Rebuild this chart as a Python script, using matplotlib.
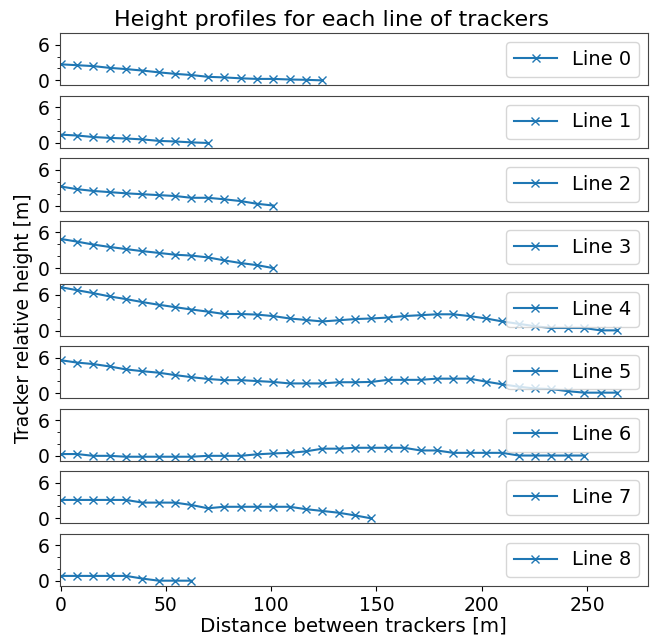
import matplotlib
matplotlib.use("Agg")
import matplotlib.pyplot as plt

# Distance of each tracker along its line [m]
distance = [0.0, 7.77, 15.54, 23.31, 31.08, 38.85, 46.62, 54.39, 62.16, 69.93,
            77.7, 85.47, 93.24, 101.01, 108.78, 116.55, 124.32, 132.09, 139.86,
            147.63, 155.4, 163.17, 170.94, 178.71, 186.48, 194.25, 202.02,
            209.79, 217.56, 225.33, 233.1, 240.87, 248.64, 256.41, 264.18]

line_0 = [2.7, 2.55, 2.4, 2.1, 1.9, 1.65, 1.35, 1.1, 0.9, 0.6, 0.5, 0.35, 0.25,
          0.25, 0.15, 0.1, 0.0]
line_1 = [1.4, 1.25, 1.0, 0.85, 0.75, 0.6, 0.35, 0.25, 0.1, 0.0]
line_2 = [3.2, 2.75, 2.45, 2.25, 2.05, 1.9, 1.75, 1.6, 1.3, 1.3, 1.05, 0.75,
          0.3, 0.0]
line_3 = [4.9, 4.45, 3.95, 3.55, 3.2, 2.85, 2.55, 2.25, 2.1, 1.8, 1.3, 0.85,
          0.5, 0.0]
line_4 = [7.3, 6.8, 6.3, 5.75, 5.3, 4.8, 4.35, 3.95, 3.55, 3.2, 2.8, 2.8, 2.7,
          2.45, 2.05, 1.8, 1.55, 1.75, 1.95, 2.05, 2.2, 2.45, 2.6, 2.75, 2.75,
          2.45, 2.05, 1.55, 1.15, 0.75, 0.45, 0.45, 0.45, 0.05, 0.05]
line_5 = [5.55, 5.15, 4.9, 4.5, 4.0, 3.7, 3.45, 3.05, 2.7, 2.4, 2.2, 2.2, 2.05,
          1.9, 1.65, 1.65, 1.65, 1.85, 1.85, 1.9, 2.25, 2.25, 2.25, 2.45, 2.45,
          2.45, 1.95, 1.5, 1.1, 0.8, 0.7, 0.35, 0.1, 0.1, 0.1]
line_6 = [0.3, 0.3, 0.0, 0.0, -0.15, -0.15, -0.15, -0.15, -0.15, 0.0, 0.0, 0.0,
          0.25, 0.4, 0.5, 0.75, 1.2, 1.2, 1.35, 1.35, 1.35, 1.35, 0.9, 0.9, 0.5,
          0.5, 0.5, 0.5, 0.05, 0.05, 0.05, 0.05, 0.05]
line_7 = [3.1, 3.1, 3.1, 3.1, 3.1, 2.65, 2.65, 2.65, 2.25, 1.7, 1.95, 1.95,
          1.95, 1.95, 1.95, 1.55, 1.25, 0.95, 0.5, 0.0]
line_8 = [0.85, 0.85, 0.85, 0.85, 0.85, 0.4, 0.05, 0.05, 0.05]

heights = [line_0, line_1, line_2, line_3, line_4, line_5, line_6, line_7, line_8]
labels = ["Line %d" % i for i in range(len(heights))]

major_yticks = [0, 6]
minor_yticks = [2, 4]
xticks = [0, 50, 100, 150, 200, 250]

fig, axes = plt.subplots(len(heights), 1, sharex=True, sharey=True,
                         figsize=(6.62, 6.37), dpi=100)
fig.subplots_adjust(left=0.0899, right=0.979, top=0.9477, bottom=0.080,
                    hspace=0.2)

for ax, h, lab in zip(axes, heights, labels):
    ax.plot(distance[:len(h)], h, marker="x", color="#1f77b4", lw=1.5,
            markersize=6, label=lab)
    ax.legend(loc="upper right", fontsize=14, handlelength=2.2,
              borderaxespad=0.45)
    ax.set_yticks(major_yticks)
    ax.set_yticks(minor_yticks, minor=True)
    ax.tick_params(axis="y", labelsize=13.5)
    for s in ax.spines.values():
        s.set_color("#444444")

for ax in axes[:-1]:
    ax.tick_params(axis="x", bottom=False)

axes[-1].set_xticks(xticks)
axes[-1].tick_params(axis="x", labelsize=13.5)
axes[-1].set_xlim(-0.5, 279)
axes[-1].set_ylim(-0.85, 7.9)
axes[-1].set_xlabel("Distance between trackers [m]", fontsize=14.3, labelpad=1)

fig.suptitle("Height profiles for each line of trackers", fontsize=16,
             y=0.985, va="top")
fig.supylabel("Tracker relative height [m]", fontsize=13.5, x=0.021)

fig.savefig("out.png", dpi=100)
